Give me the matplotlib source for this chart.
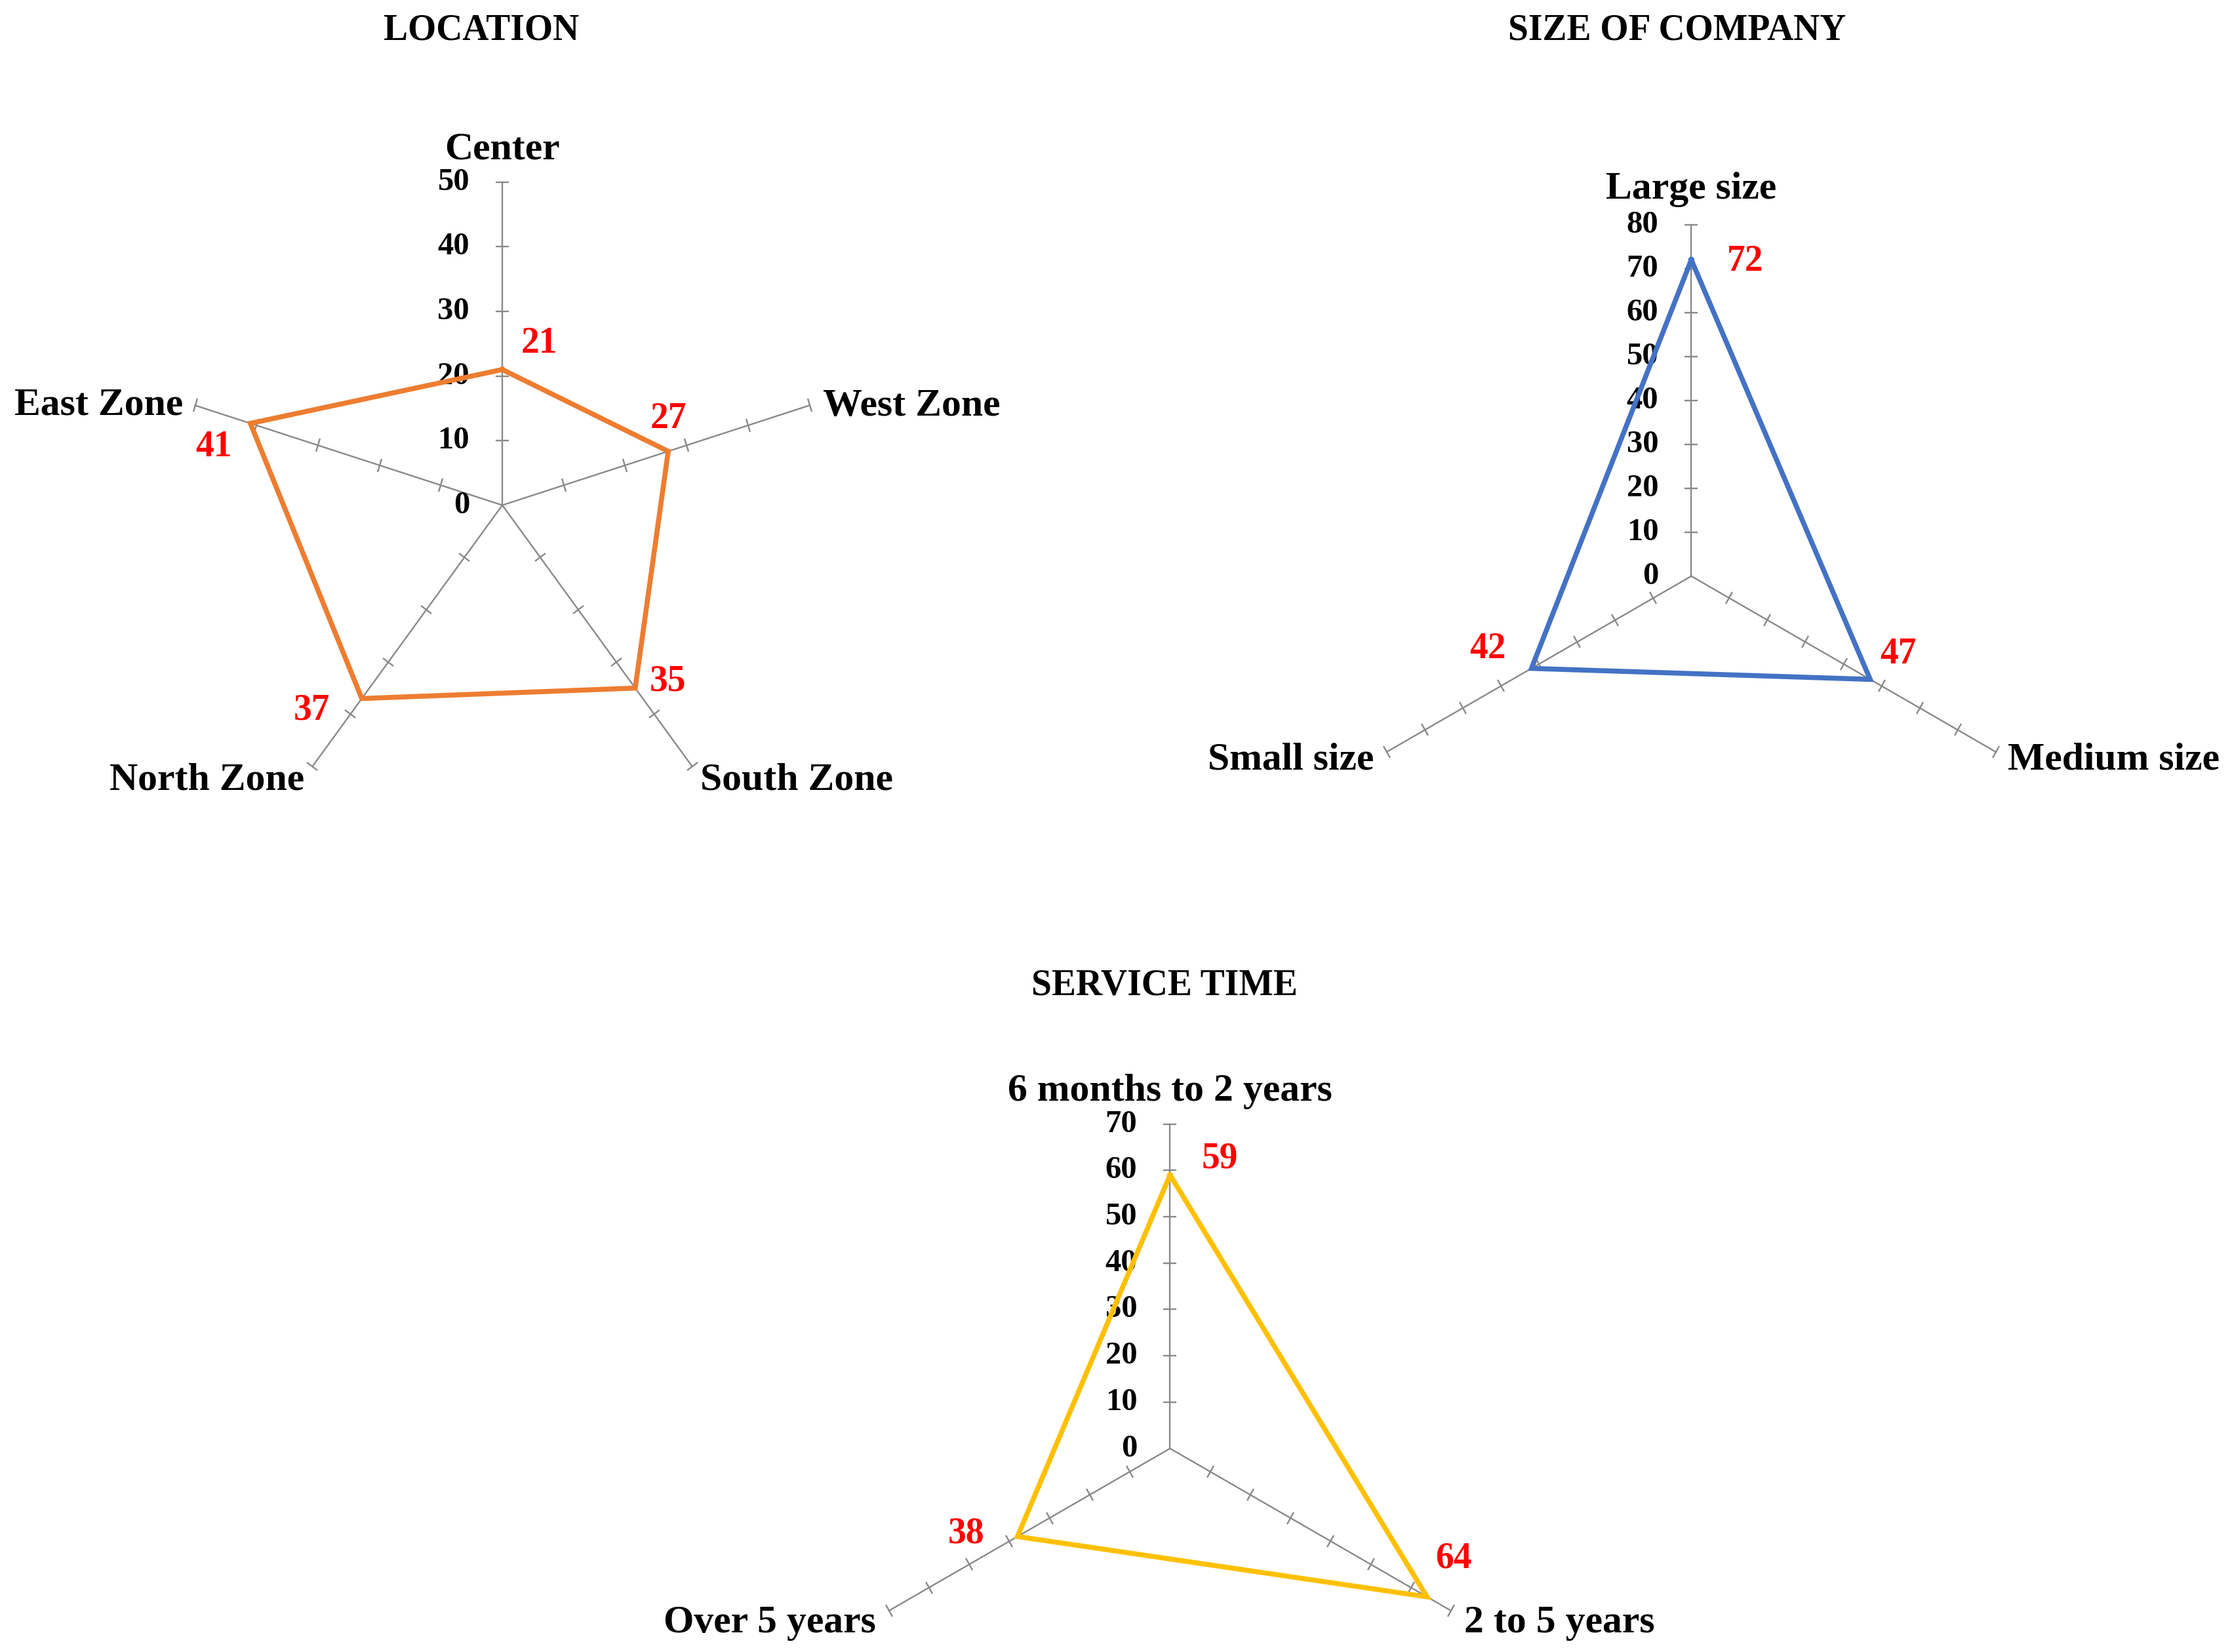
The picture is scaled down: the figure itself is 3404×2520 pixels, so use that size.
import numpy as np
import matplotlib
matplotlib.use('Agg')
import matplotlib.pyplot as plt
from matplotlib.markers import MarkerStyle
from matplotlib.transforms import Affine2D

plt.rcParams['font.family'] = ['Liberation Serif', 'DejaVu Serif']
plt.rcParams['font.weight'] = 'bold'

# ── Data ──────────────────────────────────────────────────────────────────────
location_cats = ['Center', 'West Zone', 'South Zone', 'North Zone', 'East Zone']
location_vals = [21, 27, 35, 37, 41]

size_cats = ['Large size', 'Medium size', 'Small size']
size_vals = [72, 47, 42]

service_cats = ['6 months to 2 years', '2 to 5 years', 'Over 5 years']
service_vals = [59, 64, 38]

# ── Style ─────────────────────────────────────────────────────────────────────
AXIS_GREY = '#898989'
RED = '#ff0000'
CAT_FS, TICK_FS, VAL_FS, TITLE_FS = 43, 35, 40, 40


def radar(fig, rect, cats, vals, rmax, color, label_offsets, cat_layout):
    ax = fig.add_axes(rect, polar=True)
    ax.set_theta_zero_location('N')
    ax.set_theta_direction(-1)
    ax.set_ylim(0, rmax)
    ax.grid(False)
    ax.spines['polar'].set_visible(False)
    ax.set_xticks([])
    ax.set_yticks([])
    ax.patch.set_visible(False)

    n = len(cats)
    thetas = np.arange(n) * 2 * np.pi / n
    ticks = np.arange(10, rmax + 1, 10)

    for i, th in enumerate(thetas):
        ax.plot([th, th], [0, rmax], color=AXIS_GREY, lw=1.7, zorder=1,
                clip_on=False)
        rot = 90 - np.degrees(th)
        mk = MarkerStyle('|', transform=Affine2D().rotate_deg(rot))
        ax.plot(np.full(len(ticks), th), ticks, ls='none', marker=mk,
                markersize=15, markeredgewidth=1.7, color=AXIS_GREY,
                zorder=1, clip_on=False)

    # value scale on the vertical spoke
    for t in np.arange(0, rmax + 1, 10):
        ax.annotate(f'{t:g}', xy=(0, t), xytext=(-50, 0),
                    textcoords='offset pixels', ha='right', va='center',
                    fontsize=TICK_FS, annotation_clip=False)

    th_closed = np.append(thetas, thetas[0])
    v_closed = np.append(vals, vals[0])
    ax.plot(th_closed, v_closed, color=color, lw=5.5, zorder=3,
            clip_on=False, solid_joinstyle='miter')

    for th, v, (dx, dy) in zip(thetas, vals, label_offsets):
        ax.annotate(f'{v}', xy=(th, v), xytext=(dx, dy),
                    textcoords='offset pixels', ha='center', va='center',
                    fontsize=VAL_FS, color=RED, annotation_clip=False)

    for th, c, (dx, dy, ha, va) in zip(thetas, cats, cat_layout):
        ax.annotate(c, xy=(th, rmax), xytext=(dx, dy),
                    textcoords='offset pixels', ha=ha, va=va,
                    fontsize=CAT_FS, annotation_clip=False)
    return ax


fig = plt.figure(figsize=(34.04, 25.2), dpi=100)

# LOCATION
radar(fig, [0.0803, 0.4987, 0.2895, 0.3910], location_cats, location_vals, 50,
      '#ED7D31',
      [(56, 40), (0, 49), (50, 10), (-76, -18), (-56, -36)],
      [(0, 49, 'center', 'center'), (20, -2, 'left', 'center'),
       (12, -21, 'left', 'center'), (-12, -21, 'right', 'center'),
       (-18, 0, 'right', 'center')])

# SIZE OF COMPANY
radar(fig, [0.6002, 0.4385, 0.3151, 0.4255], size_cats, size_vals, 80,
      '#4472C4',
      [(82, -3), (43, 38), (-67, 30)],
      [(0, 54, 'center', 'center'), (18, -13, 'left', 'center'),
       (-20, -13, 'right', 'center')])

# SERVICE TIME
radar(fig, [0.3788, -0.0732, 0.2908, 0.3928], service_cats, service_vals, 70,
      '#FFC000',
      [(76, 25), (41, 58), (-78, 4)],
      [(0, 50, 'center', 'center'), (20, -19, 'left', 'center'),
       (-20, -19, 'right', 'center')])

fig.text(0.2156, 0.9815, 'LOCATION', ha='center', va='center', fontsize=TITLE_FS)
fig.text(0.7513, 0.9815, 'SIZE OF COMPANY', ha='center', va='center', fontsize=TITLE_FS)
fig.text(0.5217, 0.4035, 'SERVICE TIME', ha='center', va='center', fontsize=TITLE_FS)

fig.savefig('out.png', dpi=100, facecolor='white')
